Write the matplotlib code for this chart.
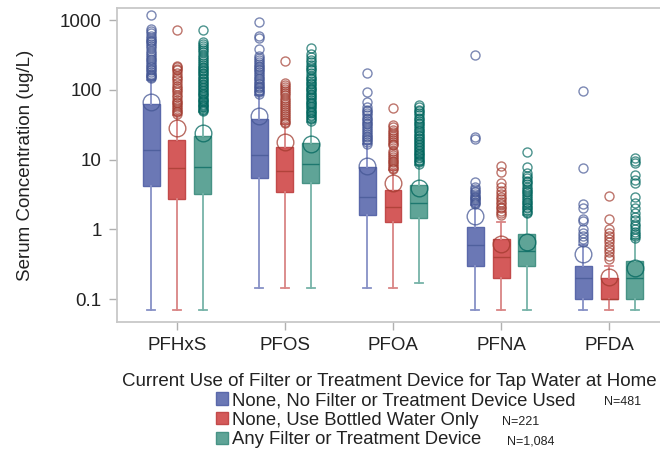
import matplotlib
matplotlib.use("Agg")
import matplotlib.pyplot as plt
from matplotlib.patches import Patch

plt.rcParams["font.family"] = ["Liberation Sans", "DejaVu Sans"]

# ---------------------------------------------------------------------------
# Serum PFAS summary statistics (ug/L) by filter use group
# ---------------------------------------------------------------------------
categories = ["PFHxS", "PFOS", "PFOA", "PFNA", "PFDA"]
groups = [
    "None, No Filter or Treatment Device Used",
    "None, Use Bottled Water Only",
    "Any Filter or Treatment Device",
]
group_n = ["N=481", "N=221", "N=1,084"]

# rows = analyte, columns = group (no filter, bottled, any filter)
q1 = [[4.2, 2.7, 3.2],
      [5.4, 3.46, 4.56],
      [1.6, 1.28, 1.44],
      [0.30, 0.20, 0.30],
      [0.099, 0.10, 0.10]]
median = [[13.7, 7.5, 7.9],
          [11.5, 6.8, 8.6],
          [2.93, 2.1, 2.36],
          [0.60, 0.40, 0.49],
          [0.20, 0.10, 0.20]]
q3 = [[62.0, 19.0, 21.7],
      [37.7, 15.2, 17.4],
      [7.9, 3.66, 4.3],
      [1.09, 0.72, 0.85],
      [0.30, 0.20, 0.355]]
whisker_lo = [[0.071, 0.071, 0.071],
              [0.143, 0.143, 0.143],
              [0.143, 0.143, 0.172],
              [0.071, 0.071, 0.071],
              [0.071, 0.071, 0.071]]
whisker_hi = [[140.0, 43.0, 48.0],
              [84.0, 32.0, 35.0],
              [16.5, 7.0, 8.5],
              [2.2, 1.29, 1.6],
              [0.6, 0.30, 0.72]]
mean = [[67.0, 28.0, 24.0],
        [42.0, 18.0, 17.0],
        [8.1, 4.57, 3.9],
        [1.55, 0.62, 0.66],
        [0.45, 0.21, 0.276]]

# outlying observations
pfhxs_none = [150, 155, 160, 165, 170, 180, 190, 200, 210, 220, 235, 250, 265,
              280, 300, 320, 340, 360, 400, 420, 450, 480, 500, 520, 560, 600,
              650, 700, 750, 1200]
pfhxs_bottled = [45, 48, 50, 53, 56, 60, 64, 68, 72, 78, 85, 92, 100, 108, 115,
                 125, 140, 150, 160, 175, 190, 200, 210, 220, 730]
pfhxs_filter = [50, 52, 54, 56, 58, 60, 63, 66, 69, 72, 75, 79, 83, 87, 91, 95,
                100, 105, 110, 116, 122, 128, 135, 142, 150, 158, 166, 175, 185,
                195, 205, 215, 230, 245, 260, 280, 300, 320, 345, 370, 400, 430,
                460, 490, 730]
pfos_none = [88, 92, 96, 100, 105, 110, 115, 120, 127, 135, 142, 150, 160, 170,
             180, 190, 200, 210, 220, 235, 250, 270, 290, 310, 390, 560, 600, 950]
pfos_bottled = [33, 35, 37, 39, 42, 45, 48, 51, 55, 59, 63, 67, 72, 77, 83, 89,
                95, 102, 110, 118, 125, 260]
pfos_filter = [36, 38, 40, 42, 44, 46, 48, 50, 53, 56, 59, 62, 65, 68, 72, 76,
               80, 84, 88, 93, 98, 103, 108, 114, 120, 127, 134, 142, 150, 160,
               175, 190, 200, 215, 230, 250, 270, 300, 330, 400]
pfoa_none = [17, 18, 19, 20, 21, 22, 23.5, 25, 26.5, 28, 30, 32, 34, 36, 38, 40,
             43, 46, 49, 52, 56, 67, 93, 172]
pfoa_bottled = [7.3, 7.7, 8.1, 8.6, 9.1, 9.7, 10.3, 11, 11.7, 12.5, 13.3, 16, 17,
                18, 19, 20.5, 22, 23.5, 25, 27, 29, 31, 55]
pfoa_filter = [8.7, 9.1, 9.5, 10, 10.5, 11, 11.5, 12, 12.6, 13.2, 13.8, 14.5,
               15.2, 16, 16.8, 17.6, 18.5, 19.5, 20.5, 21.5, 22.5, 24, 25.5, 27,
               28.5, 30, 32, 34, 36, 38, 40, 43, 46, 49, 52, 56, 60]
pfna_none = [2.3, 2.4, 2.5, 2.6, 2.7, 2.8, 2.9, 3.0, 3.2, 3.4, 3.6, 3.8, 4.0,
             4.8, 20, 21, 320]
pfna_bottled = [1.6, 1.7, 1.85, 2.0, 2.1, 2.3, 2.5, 2.7, 2.9, 3.2, 3.6, 4.1, 4.6,
                6.7, 8.2]
pfna_filter = [1.7, 1.8, 1.9, 2.0, 2.1, 2.2, 2.35, 2.5, 2.65, 2.8, 3.0, 3.2,
               3.4, 3.6, 3.8, 4.1, 4.4, 4.7, 5.0, 5.4, 5.9, 6.4, 7.9, 13]
pfda_none = [0.65, 0.72, 0.8, 0.9, 1.0, 1.3, 1.4, 2.0, 2.3, 7.6, 97]
pfda_bottled = [0.38, 0.42, 0.47, 0.52, 0.58, 0.65, 0.72, 0.8, 0.9, 1.0, 1.4,
                3.0]
pfda_filter = [0.75, 0.8, 0.86, 0.92, 1.0, 1.1, 1.2, 1.35, 1.5, 1.7, 2.0, 2.4,
               2.9, 4.6, 5.1, 6.1, 8.8, 9.6, 10.5]

outliers = [[pfhxs_none, pfhxs_bottled, pfhxs_filter],
            [pfos_none, pfos_bottled, pfos_filter],
            [pfoa_none, pfoa_bottled, pfoa_filter],
            [pfna_none, pfna_bottled, pfna_filter],
            [pfda_none, pfda_bottled, pfda_filter]]

# ---------------------------------------------------------------------------
# Styling
# ---------------------------------------------------------------------------
box_face = ["#6b78b5", "#d45a5a", "#5fa497"]
box_edge = ["#5a68aa", "#c24a4a", "#479385"]
whisker_col = ["#8791c6", "#d98585", "#76b3a8"]
marker_col = ["#445694", "#a23a2e", "#01665e"]
offsets = [-0.24, 0.0, 0.24]
box_w = 0.157

fig = plt.figure(figsize=(6.6, 4.55), dpi=100)
ax = fig.add_axes([117 / 660, 133 / 455, 552 / 660, 314 / 455])

for g in range(3):
    stats = []
    for c in range(len(categories)):
        stats.append({
            "q1": q1[c][g], "med": median[c][g], "q3": q3[c][g],
            "whislo": whisker_lo[c][g], "whishi": whisker_hi[c][g],
            "mean": mean[c][g], "fliers": outliers[c][g],
        })
    pos = [c + offsets[g] for c in range(len(categories))]
    ax.bxp(stats, positions=pos, widths=box_w, patch_artist=True,
           showmeans=True, showfliers=True, capwidths=0.07,
           boxprops=dict(facecolor=box_face[g], edgecolor=box_edge[g], lw=1.0),
           medianprops=dict(color=marker_col[g], lw=1.0, alpha=0.7),
           whiskerprops=dict(color=whisker_col[g], lw=1.3),
           capprops=dict(color=whisker_col[g], lw=1.3),
           meanprops=dict(marker="o", markersize=12, markerfacecolor="none",
                          markeredgecolor=marker_col[g], markeredgewidth=1.0,
                          alpha=0.75),
           flierprops=dict(marker="o", markersize=6.5, markerfacecolor="none",
                           markeredgecolor=marker_col[g], markeredgewidth=1.0,
                           alpha=0.7))

ax.set_yscale("log")
ax.set_ylim(0.047, 1490)
ax.set_xlim(-0.555, 4.555)
ax.set_yticks([0.1, 1, 10, 100, 1000])
ax.set_yticklabels(["0.1", "1", "10", "100", "1000"])
ax.minorticks_off()
ax.set_xticks(range(len(categories)))
ax.set_xticklabels(categories)
ax.tick_params(axis="both", direction="out", length=6, width=1.0,
               color="#b0b0b0", labelsize=13.5, labelcolor="#222222", pad=5)
ax.tick_params(axis="x", pad=5)
for sp in ax.spines.values():
    sp.set_color("#c8c8c8")
    sp.set_linewidth(1.3)
ax.set_ylabel("Serum Concentration (ug/L)", fontsize=13.5, color="#222222")
ax.yaxis.set_label_coords(-0.15, 0.5)

# legend block under the plot
fig.text(122 / 660, 1 - 381 / 455,
         "Current Use of Filter or Treatment Device for Tap Water at Home",
         fontsize=13.5, color="#222222", va="center", ha="left")
handles = [Patch(facecolor=box_face[g], edgecolor=box_edge[g]) for g in range(3)]
fig.legend(handles, groups, loc="upper left", bbox_to_anchor=(216 / 660, 1 - 392 / 455),
           frameon=False, fontsize=13.3, handlelength=0.65, handleheight=0.65,
           handletextpad=0.2, labelspacing=0.14, borderpad=0, borderaxespad=0,
           labelcolor="#222222")
n_x = [604, 502, 507]
for g in range(3):
    fig.text(n_x[g] / 660, 1 - (402 + 20 * g) / 455, group_n[g], fontsize=9,
             color="#222222", va="center", ha="left")

fig.savefig("out.png", dpi=100)
